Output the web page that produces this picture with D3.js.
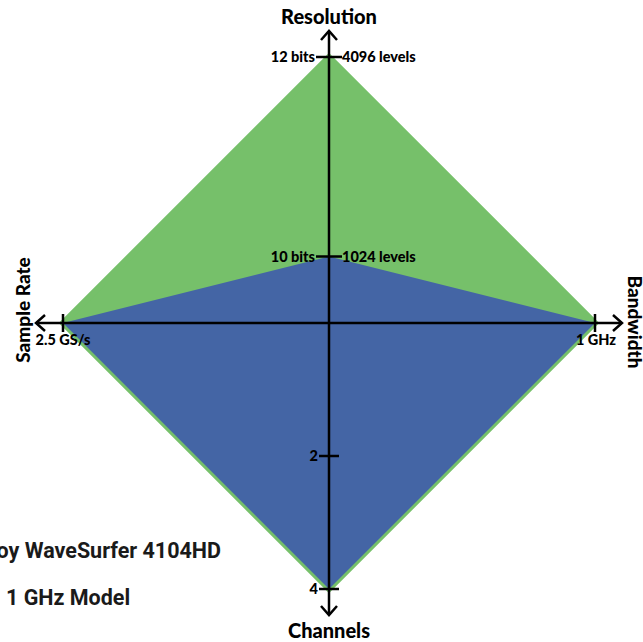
<!DOCTYPE html>
<html><head><meta charset="utf-8">
<script src="https://cdn.jsdelivr.net/npm/d3@7"></script>
<style>
html,body{margin:0;padding:0;background:#fff;overflow:hidden;}
svg{display:block;}
</style></head>
<body>
<svg id="chart" width="643" height="642"></svg>
<script>
// ---- data ----
const axisNames = ["Resolution", "Bandwidth", "Channels", "Sample Rate"];
const axisMax = [4096, 1, 4, 2.5];           // levels, GHz, channels, GS/s
const seriesNames = ["LeCroy WaveSurfer 4104HD", "1 GHz Model"];
const seriesColors = ["#76c06a", "#4465a5"];
const wavesurferValues = [4096, 1, 4, 2.5];
const otherValues = [1024, 1, 4, 2.5];
const resolutionTicks = [4096, 1024];
const resolutionLeftLabels = ["12 bits", "10 bits"];
const resolutionRightLabels = ["4096 levels", "1024 levels"];
const channelTicks = [2, 4];
const channelLabels = ["2", "4"];
const bandwidthTickLabel = "1 GHz";
const sampleRateTickLabel = "2.5 GS/s";

// ---- layout ----
const svg = d3.select("#chart");
const cx = 329, cy = 323, R = 266;
const scales = axisMax.map(m => d3.scaleLinear().domain([0, m]).range([0, R]));
// direction unit vectors: up, right, down, left
const dirs = [[0,-1],[1,0],[0,1],[-1,0]];
const pt = (i, v) => [cx + dirs[i][0]*scales[i](v), cy + dirs[i][1]*scales[i](v)];

const line = d3.line();
// series polygons
svg.append("path")
  .attr("d", line(wavesurferValues.map((v,i)=>pt(i,v))) + "Z")
  .attr("fill", seriesColors[0]).attr("stroke", seriesColors[0])
  .attr("stroke-width", 6).attr("stroke-linejoin", "miter");
svg.append("path")
  .attr("d", line(otherValues.map((v,i)=>pt(i,v))) + "Z")
  .attr("fill", seriesColors[1]);

// axes
const g = svg.append("g").attr("stroke", "#000").attr("fill", "none").attr("stroke-width", 2.5);
const ext = 293; // arrow tip distance
g.append("line").attr("x1", cx-ext).attr("x2", cx+ext).attr("y1", cy).attr("y2", cy);
g.append("line").attr("y1", cy-ext+1).attr("y2", cy+ext-1).attr("x1", cx).attr("x2", cx);
const ah = 9, aw = 8;
dirs.forEach(d => {
  const tipx = cx + d[0]*(d[1]!==0?ext-1:ext), tipy = cy + d[1]*(d[1]!==0?ext-1:ext);
  const bx = tipx - d[0]*ah, by = tipy - d[1]*ah;
  const px = -d[1], py = d[0];
  g.append("path").attr("d", line([[bx+px*aw, by+py*aw],[tipx, tipy],[bx-px*aw, by-py*aw]]));
});

// ticks
const tickFont = "Lato, 'Open Sans', sans-serif";
const txt = svg.append("g").attr("font-family", tickFont).attr("font-weight", 900)
  .attr("font-size", 14.5).attr("fill", "#000");
resolutionTicks.forEach((t, k) => {
  const [x, y] = pt(0, t);
  g.append("line").attr("x1", x-13).attr("x2", x+13).attr("y1", y).attr("y2", y);
  txt.append("text").attr("x", x-14).attr("y", y).attr("dy", "0.35em")
    .attr("text-anchor", "end").text(resolutionLeftLabels[k]);
  txt.append("text").attr("x", x+13).attr("y", y).attr("dy", "0.35em")
    .attr("text-anchor", "start").text(resolutionRightLabels[k]);
});
channelTicks.forEach((t, k) => {
  const [x, y] = pt(2, t);
  g.append("line").attr("x1", x-10).attr("x2", x+10).attr("y1", y).attr("y2", y);
  txt.append("text").attr("x", x-11).attr("y", y).attr("dy", "0.35em")
    .attr("text-anchor", "end").text(channelLabels[k]);
});
{
  const [x, y] = pt(1, axisMax[1]);
  g.append("line").attr("x1", x).attr("x2", x).attr("y1", y-9).attr("y2", y+9);
  txt.append("text").attr("x", x+1).attr("y", y+22).attr("text-anchor", "middle").text(bandwidthTickLabel);
}
{
  const [x, y] = pt(3, axisMax[3]);
  g.append("line").attr("x1", x).attr("x2", x).attr("y1", y-9).attr("y2", y+9);
  txt.append("text").attr("x", x).attr("y", y+22).attr("text-anchor", "middle").text(sampleRateTickLabel);
}

// axis titles
const tt = svg.append("g").attr("font-family", tickFont).attr("font-weight", 900)
  .attr("fill", "#000").attr("text-anchor", "middle");
tt.append("text").attr("x", cx).attr("y", 24).attr("font-size", 20).text(axisNames[0]);
tt.append("text").attr("x", cx).attr("y", 638).attr("font-size", 20).text(axisNames[2]);
tt.append("text").attr("font-size", 19).attr("transform", `translate(30,${310}) rotate(-90)`).text(axisNames[3]);
tt.append("text").attr("font-size", 19).attr("transform", `translate(628,${322}) rotate(90)`).text(axisNames[1]);

// legend text
const lg = svg.append("g").attr("font-family", "Roboto, sans-serif").attr("font-weight", "bold")
  .attr("font-size", 21.5).attr("fill", "#1a1a1a");
lg.append("text").attr("x", 221).attr("y", 558).attr("text-anchor", "end").text(seriesNames[0]);
lg.append("text").attr("x", 6).attr("y", 605).attr("text-anchor", "start").text(seriesNames[1]);
</script>
</body></html>
